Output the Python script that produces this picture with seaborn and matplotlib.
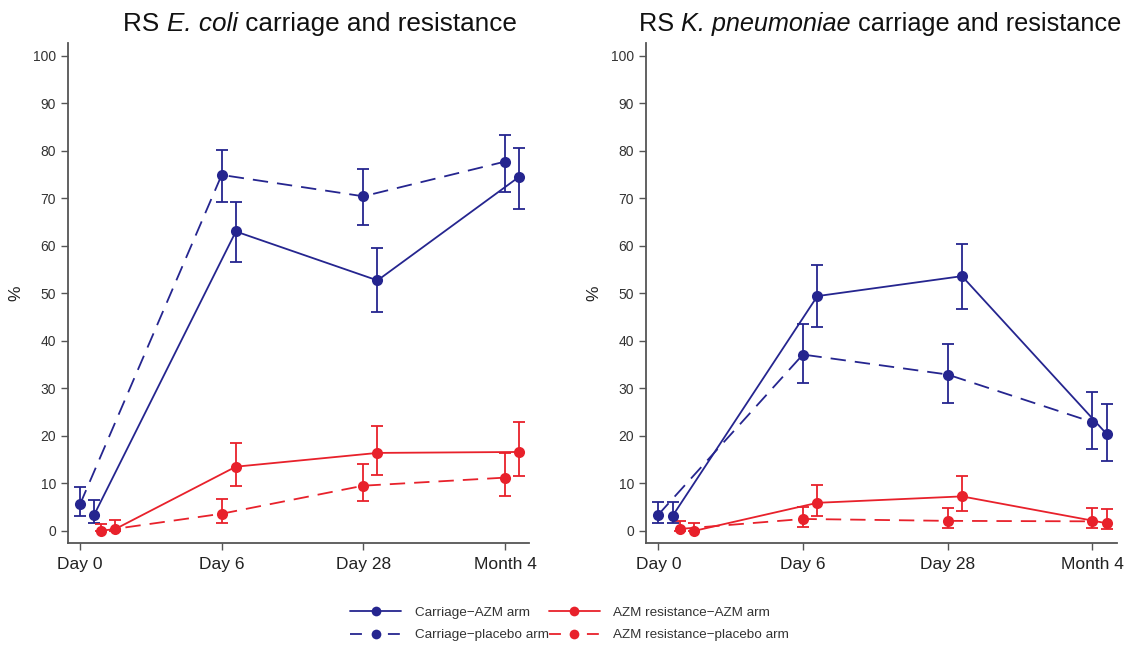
import matplotlib
matplotlib.use('Agg')
import matplotlib.pyplot as plt
from matplotlib.offsetbox import TextArea, HPacker, AnchoredOffsetbox
import pandas as pd
import seaborn as sns

timepoints = ['Day 0', 'Day 6', 'Day 28', 'Month 4']
series_names = ['Carriage\u2212AZM arm', 'Carriage\u2212placebo arm',
                'AZM resistance\u2212AZM arm', 'AZM resistance\u2212placebo arm']

# E. coli panel
ecoli_carr_azm = [3.4, 63.0, 52.7, 74.5]
ecoli_carr_azm_lo = [1.6, 56.6, 46.0, 67.7]
ecoli_carr_azm_hi = [6.4, 69.2, 59.6, 80.6]
ecoli_carr_plc = [5.6, 74.9, 70.4, 77.7]
ecoli_carr_plc_lo = [3.2, 69.1, 64.3, 71.4]
ecoli_carr_plc_hi = [9.3, 80.2, 76.2, 83.3]
ecoli_res_azm = [0.4, 13.5, 16.4, 16.6]
ecoli_res_azm_lo = [0.0, 9.4, 11.8, 11.6]
ecoli_res_azm_hi = [2.2, 18.5, 22.0, 22.8]
ecoli_res_plc = [0.0, 3.6, 9.5, 11.2]
ecoli_res_plc_lo = [0.0, 1.6, 6.2, 7.3]
ecoli_res_plc_hi = [1.5, 6.8, 14.1, 16.4]

# K. pneumoniae panel
kp_carr_azm = [3.2, 49.4, 53.6, 20.4]
kp_carr_azm_lo = [1.6, 42.9, 46.7, 14.8]
kp_carr_azm_hi = [6.1, 56.0, 60.3, 26.7]
kp_carr_plc = [3.4, 37.1, 32.9, 22.9]
kp_carr_plc_lo = [1.6, 31.2, 27.0, 17.3]
kp_carr_plc_hi = [6.1, 43.5, 39.3, 29.3]
kp_res_azm = [0.0, 5.9, 7.25, 1.6]
kp_res_azm_lo = [0.0, 3.2, 4.2, 0.4]
kp_res_azm_hi = [1.6, 9.7, 11.6, 4.6]
kp_res_plc = [0.4, 2.5, 2.1, 2.0]
kp_res_plc_lo = [0.0, 0.8, 0.7, 0.6]
kp_res_plc_hi = [2.1, 5.1, 4.8, 4.9]

# title pieces: (text, italic?)
ecoli_title = [('RS ', False), ('E. coli', True), (' carriage and resistance', False)]
kp_title = [('RS ', False), ('K. pneumoniae', True), (' carriage and resistance', False)]

BLUE = '#25258f'
RED = '#e8212b'
colors = {series_names[0]: BLUE, series_names[1]: BLUE,
          series_names[2]: RED, series_names[3]: RED}
dashes = {series_names[0]: '', series_names[1]: (8.5, 5),
          series_names[2]: '', series_names[3]: (8.5, 5)}
# horizontal dodge of each series (first value is for Day 0)
dodge = {series_names[0]: [0.1, 0.1, 0.1, 0.1],
         series_names[1]: [0.0, 0.0, 0.0, 0.0],
         series_names[2]: [0.25, 0.1, 0.1, 0.1],
         series_names[3]: [0.15, 0.0, 0.0, 0.0]}


def build_frame(vals):
    rows = []
    for name, (v, lo, hi) in zip(series_names, vals):
        for i, t in enumerate(timepoints):
            rows.append({'series': name, 'time': t, 'pos': i + dodge[name][i],
                         'pct': v[i], 'lo': lo[i], 'hi': hi[i]})
    return pd.DataFrame(rows)


ecoli_df = build_frame([
    (ecoli_carr_azm, ecoli_carr_azm_lo, ecoli_carr_azm_hi),
    (ecoli_carr_plc, ecoli_carr_plc_lo, ecoli_carr_plc_hi),
    (ecoli_res_azm, ecoli_res_azm_lo, ecoli_res_azm_hi),
    (ecoli_res_plc, ecoli_res_plc_lo, ecoli_res_plc_hi),
])
kp_df = build_frame([
    (kp_carr_azm, kp_carr_azm_lo, kp_carr_azm_hi),
    (kp_carr_plc, kp_carr_plc_lo, kp_carr_plc_hi),
    (kp_res_azm, kp_res_azm_lo, kp_res_azm_hi),
    (kp_res_plc, kp_res_plc_lo, kp_res_plc_hi),
])

sns.set_theme(style='ticks')
plt.rcParams['font.family'] = ['Liberation Sans', 'DejaVu Sans']

fig = plt.figure(figsize=(11.28, 6.52), dpi=100)
ax1 = fig.add_axes([0.0603, 0.1676, 0.4087, 0.766])
ax2 = fig.add_axes([0.5727, 0.1676, 0.4173, 0.766])


def add_title(pieces, xc, size):
    areas = [TextArea(txt, textprops=dict(fontsize=size, color='#111111',
                                          fontstyle='italic' if it else 'normal'))
             for txt, it in pieces]
    box = HPacker(children=areas, align='baseline', pad=0, sep=0)
    anch = AnchoredOffsetbox(loc='center', child=box, pad=0, borderpad=0,
                             frameon=False, bbox_to_anchor=(xc, 0.963),
                             bbox_transform=fig.transFigure)
    fig.add_artist(anch)


for ax, df in zip([ax1, ax2], [ecoli_df, kp_df]):
    for name in series_names:
        sub = df[df['series'] == name]
        ax.errorbar(sub['pos'], sub['pct'],
                    yerr=[sub['pct'] - sub['lo'], sub['hi'] - sub['pct']],
                    fmt='none', ecolor=colors[name], elinewidth=1.3,
                    capsize=4.5, capthick=1.3, zorder=2)
    sns.lineplot(data=df, x='pos', y='pct', hue='series', style='series',
                 palette=colors, dashes=dashes, markers={n: 'o' for n in series_names},
                 markersize=8, markeredgewidth=0, linewidth=1.3, sort=False,
                 estimator=None, units='series', ax=ax, legend=False, zorder=3)
    ax.set_xlim(-0.085, 3.17)
    ax.set_ylim(-2.5, 102.6)
    ax.set_xticks(range(len(timepoints)))
    ax.set_xticklabels(timepoints, fontsize=12.5, color='#222222')
    ax.set_yticks(range(0, 101, 10))
    ax.tick_params(axis='y', labelsize=10, colors='#333333', length=5, width=1, color='#555555')
    ax.tick_params(axis='x', length=5, width=1, color='#555555', pad=5)
    ax.set_xlabel('')
    ax.set_ylabel('%', fontsize=12.5, color='#222222', labelpad=7)
    for side in ['top', 'right']:
        ax.spines[side].set_visible(False)
    for side in ['left', 'bottom']:
        ax.spines[side].set_color('#555555')
        ax.spines[side].set_linewidth(1.3)

add_title(ecoli_title, 320 / 1128, 18.8)
add_title(kp_title, 880 / 1128, 18.2)

# legend: dashed keys drawn as "dash - marker - dash"
handles = []
for name in series_names:
    ls = '-' if dashes[name] == '' else (0, (6.6, 14.4))
    h, = ax1.plot([], [], color=colors[name], linestyle=ls, linewidth=1.3,
                  marker='o', markersize=7, markeredgewidth=0)
    handles.append(h)
leg = fig.legend(handles, series_names,
                 loc='center', bbox_to_anchor=(0.505, 0.043), ncol=2, frameon=False,
                 fontsize=9.7, handlelength=3.8, columnspacing=0.0, handletextpad=1.0,
                 labelspacing=0.75)
for t in leg.get_texts():
    t.set_color('#333333')

fig.savefig('out.png', dpi=100)
